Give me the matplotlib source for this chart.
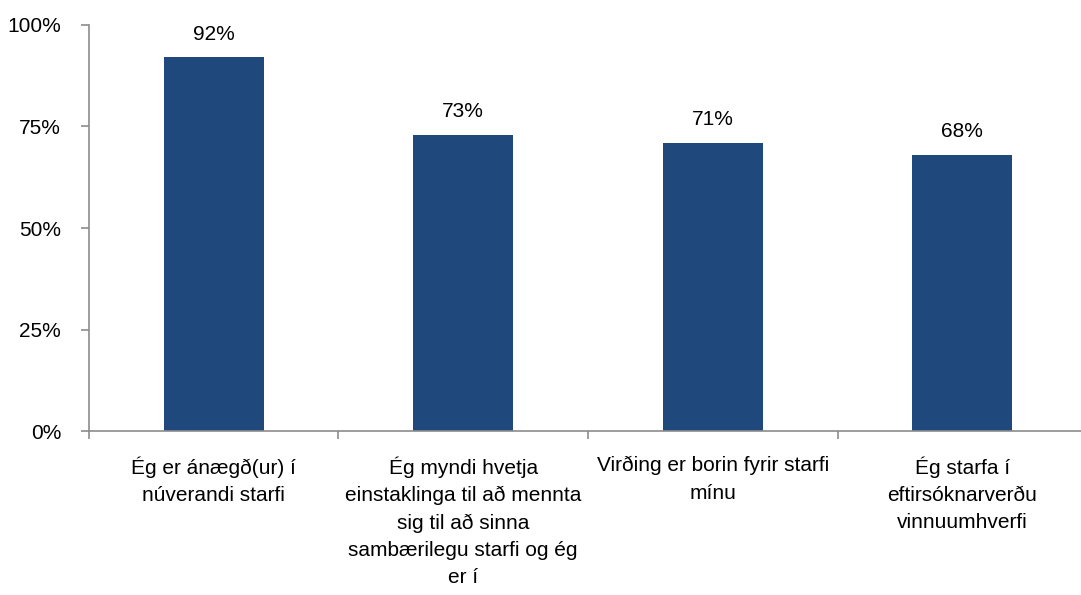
import matplotlib.pyplot as plt
import numpy as np

plt.rcParams['font.family'] = ['Liberation Sans', 'DejaVu Sans']

categorias = [
    'Ég er ánægð(ur) í\nnúverandi starfi',
    'Ég myndi hvetja\neinstaklinga til að mennta\nsig til að sinna\nsambærilegu starfi og ég\ner í',
    'Virðing er borin fyrir starfi\nmínu',
    'Ég starfa í\neftirsóknarverðu\nvinnuumhverfi',
]
valores = [92, 73, 71, 68]
yticks = [0, 25, 50, 75, 100]

corBarra = '#1F497D'
corEixo = '#8C8C8C'

fig = plt.figure(figsize=(10.81, 5.95), dpi=100)
ax = fig.add_axes([0.0823, 0.2756, 0.9233, 0.6824])

x = np.arange(len(categorias))
ax.bar(x, valores, width=0.4, color=corBarra, zorder=2)

for xi, v in zip(x, valores):
    ax.annotate(f'{v}%', (xi, v), xytext=(0, 10), textcoords='offset points',
                ha='center', va='bottom', fontsize=15, color='#000000')

ax.set_xlim(-0.5, len(categorias) - 0.5)
ax.set_ylim(0, 100)
ax.set_yticks(yticks)
ax.set_yticklabels([f'{t}%' for t in yticks], fontsize=15)

# ticks nos limites das categorias, rotulos no centro
ax.set_xticks(np.arange(-0.5, len(categorias), 1.0))
ax.set_xticklabels([])
ax.set_xticks(x, minor=True)
ax.set_xticklabels(categorias, minor=True, fontsize=15, linespacing=1.55)
ax.tick_params(axis='x', which='minor', length=0, pad=18)
ax.tick_params(axis='x', which='major', length=6, width=1.2, color=corEixo, direction='out')
ax.tick_params(axis='y', length=6, width=1.2, color=corEixo, direction='out', pad=14)

for lado in ['top', 'right']:
    ax.spines[lado].set_visible(False)
for lado in ['left', 'bottom']:
    ax.spines[lado].set_color(corEixo)
    ax.spines[lado].set_linewidth(1.2)

plt.savefig('out.png', dpi=100)
plt.close()
